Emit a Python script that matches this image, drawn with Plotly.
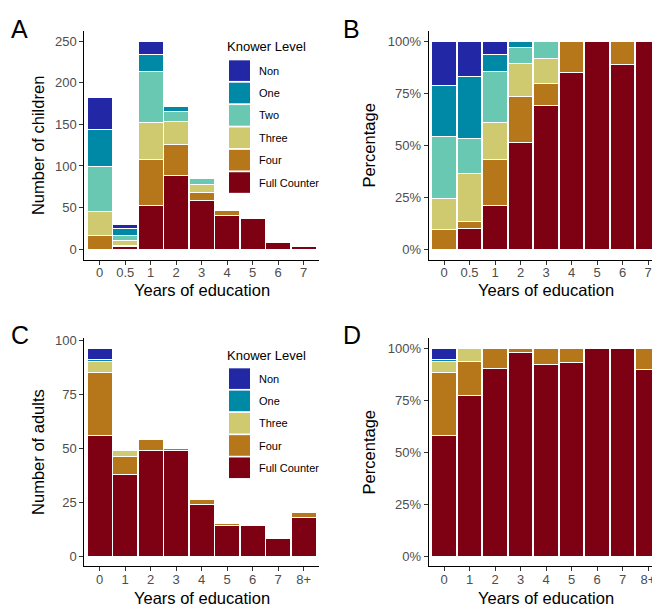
import plotly.graph_objects as go

# ---------------- data ----------------
children_years = ["0", "0.5", "1", "2", "3", "4", "5", "6", "7"]
children_full = [0, 3, 52, 88, 59, 40, 37, 8, 3]
children_four = [17, 1, 56, 38, 9, 7, 0, 1, 0]
children_three = [28, 7, 44, 27, 10, 0, 0, 0, 0]
children_two = [54, 5, 62, 13, 7, 0, 0, 0, 0]
children_one = [45, 9, 20, 5, 0, 0, 0, 0, 0]
children_non = [38, 5, 15, 0, 0, 0, 0, 0, 0]

adults_years = ["0", "1", "2", "3", "4", "5", "6", "7", "8+"]
adults_full = [56, 38, 49, 49, 24, 14, 14, 8, 18]
adults_four = [29, 8, 5, 1, 2, 1, 0, 0, 2]
adults_three = [5, 3, 0, 0, 0, 0, 0, 0, 0]
adults_one = [1, 0, 0, 0, 0, 0, 0, 0, 0]
adults_non = [5, 0, 0, 0, 0, 0, 0, 0, 0]

level_names = ["Non", "One", "Two", "Three", "Four", "Full Counter"]
level_colors = {
    "Non": "#2227A6",
    "One": "#0089A7",
    "Two": "#69C8B2",
    "Three": "#CFCA6F",
    "Four": "#B5771A",
    "Full Counter": "#7D0013",
}

children_series = {
    "Full Counter": children_full, "Four": children_four, "Three": children_three,
    "Two": children_two, "One": children_one, "Non": children_non,
}
adults_series = {
    "Full Counter": adults_full, "Four": adults_four, "Three": adults_three,
    "One": adults_one, "Non": adults_non,
}

# the page places the figure slightly in from the window corner
OFF_X, OFF_Y = 8, 12
W, H = 660 - OFF_X, 602
FONT = "Liberation Sans, Arial, Helvetica, sans-serif"


def px_x(x):
    return (x - OFF_X) / W


def px_y(y):
    yf = (y - OFF_Y) + 2.5 * (y - 40) / 515
    return 1 - yf / H


fig = go.Figure()

stack_order = ["Full Counter", "Four", "Three", "Two", "One", "Non"]


def add_panel(series, cats, xa, ya, percent):
    totals = [sum(series[k][i] for k in series) for i in range(len(cats))]
    for name in stack_order:
        if name not in series:
            continue
        vals = series[name]
        y = [v / t for v, t in zip(vals, totals)] if percent else vals
        fig.add_trace(go.Bar(
            x=cats, y=y, name=name, xaxis=xa, yaxis=ya,
            marker=dict(color=level_colors[name], line=dict(color="white", width=1)),
            showlegend=False,
        ))
    return totals


tot_c = add_panel(children_series, children_years, "x", "y", False)
add_panel(children_series, children_years, "x2", "y2", True)
tot_a = add_panel(adults_series, adults_years, "x3", "y3", False)
add_panel(adults_series, adults_years, "x4", "y4", True)

# domains (pixel based, window coordinates)
left_dom = [px_x(84.4), px_x(319.0)]
right_dom = [px_x(428.7), 1.0]
top_dom = [px_y(259.1), px_y(29.7)]
bot_dom = [px_y(567.4), px_y(338.3)]

tickfont = dict(family=FONT, size=13, color="#4D4D4D")
common_x = dict(type="category", showline=True, linecolor="black", linewidth=1.1,
                ticks="outside", ticklen=4, tickcolor="#333333", tickwidth=1,
                ticklabelstandoff=-3,
                tickfont=tickfont, showgrid=False, zeroline=False, fixedrange=True)
common_y = dict(showline=True, linecolor="black", linewidth=1.1,
                ticks="outside", ticklen=4, tickcolor="#333333", tickwidth=1,
                tickfont=tickfont, showgrid=False, zeroline=False)

max_c = max(tot_c)
max_a = max(tot_a)
right_range_end = -0.6 + (660 - 428.7) / 25.5

fig.update_layout(
    width=W, height=H, margin=dict(l=0, r=0, t=0, b=0),
    paper_bgcolor="white", plot_bgcolor="white",
    barmode="stack", bargap=0.03,
    showlegend=False,
    font=dict(family=FONT),
    xaxis=dict(common_x, domain=left_dom, anchor="y", range=[-0.6, 8.6]),
    yaxis=dict(common_y, domain=top_dom, anchor="x", range=[-0.05 * max_c, 1.05 * max_c],
               tickvals=[0, 50, 100, 150, 200, 250]),
    xaxis2=dict(common_x, domain=right_dom, anchor="y2", range=[-0.6, right_range_end]),
    yaxis2=dict(common_y, domain=top_dom, anchor="x2", range=[-0.05, 1.05],
                tickvals=[0, 0.25, 0.5, 0.75, 1.0], ticktext=["0%", "25%", "50%", "75%", "100%"]),
    xaxis3=dict(common_x, domain=left_dom, anchor="y3", range=[-0.6, 8.6]),
    yaxis3=dict(common_y, domain=bot_dom, anchor="x3", range=[-0.05 * max_a, 1.05 * max_a],
                tickvals=[0, 25, 50, 75, 100]),
    xaxis4=dict(common_x, domain=right_dom, anchor="y4", range=[-0.6, right_range_end]),
    yaxis4=dict(common_y, domain=bot_dom, anchor="x4", range=[-0.05, 1.05],
                tickvals=[0, 0.25, 0.5, 0.75, 1.0], ticktext=["0%", "25%", "50%", "75%", "100%"]),
)

annotations = []
shapes = []


def text(x, y, s, size, color="black", xanchor="center", angle=0):
    annotations.append(dict(
        x=px_x(x), y=px_y(y), xref="paper", yref="paper", text=s, showarrow=False,
        xanchor=xanchor, yanchor="middle", textangle=angle,
        font=dict(family=FONT, size=size, color=color),
    ))


# panel letters
text(9, 27.5, "A", 25, xanchor="left")
text(341, 27.5, "B", 25, xanchor="left")
text(9, 335, "C", 25, xanchor="left")
text(341, 335, "D", 25, xanchor="left")

# axis titles
text(201.7, 289.5, "Years of education", 16.5)
text(546, 289.5, "Years of education", 16.5)
text(201.7, 599, "Years of education", 16.5)
text(546, 599, "Years of education", 16.5)
text(37.5, 144.4, "Number of children", 16.5, angle=-90)
text(369, 144.4, "Percentage", 16.5, angle=-90)
text(38.5, 452.8, "Number of adults", 16.5, angle=-90)
text(369, 452.8, "Percentage", 16.5, angle=-90)


def legend(levels, title_y, key_top, step=22.5):
    text(225, title_y, "Knower Level", 13, xanchor="left")
    for i, name in enumerate(levels):
        y0 = key_top + i * step
        shapes.append(dict(type="rect", xref="paper", yref="paper",
                           x0=px_x(229), x1=px_x(250), y0=px_y(y0), y1=px_y(y0 + 20.7),
                           fillcolor=level_colors[name], line=dict(width=0)))
        text(256.5, y0 + 10.4, name, 11, xanchor="left")


legend([n for n in level_names if n in children_series], 45, 58.7)
legend([n for n in level_names if n in adults_series], 355.5, 368.3, 22.4)

fig.update_layout(annotations=annotations, shapes=shapes)
fig.write_html("out.html")
